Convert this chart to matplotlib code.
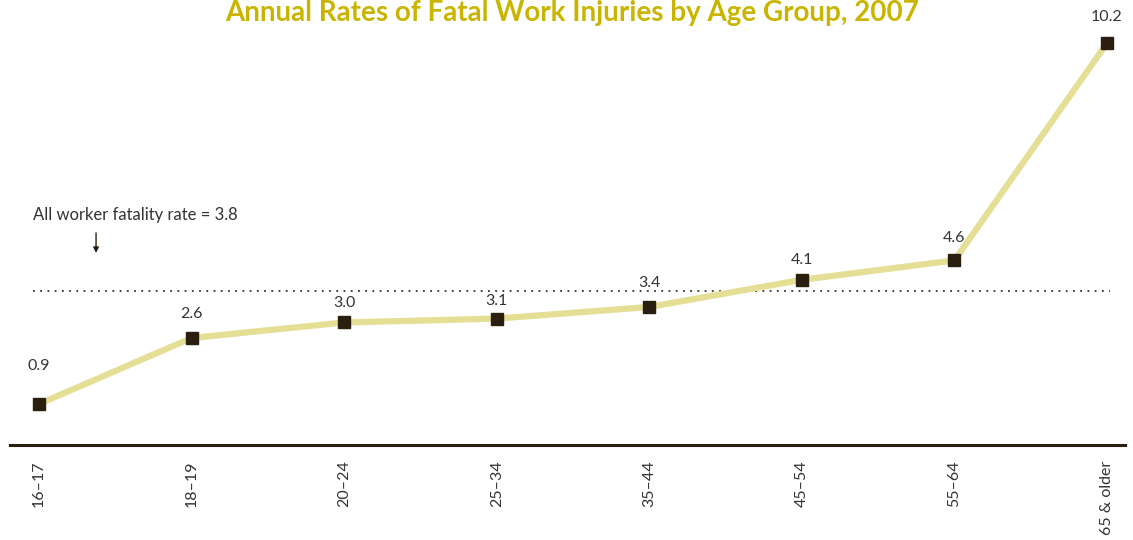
import matplotlib
matplotlib.use("Agg")
import matplotlib.pyplot as plt

groups = ["16\u201317", "18\u201319", "20\u201324", "25\u201334", "35\u201344", "45\u201354", "55\u201364", "65 & older"]
rates = [0.9, 2.6, 3.0, 3.1, 3.4, 4.1, 4.6, 10.2]
all_rate = 3.8

plt.rcParams['font.family'] = ['Lato', 'DejaVu Sans']
dark = '#2a1f0f'
W, H = 1133, 540
fig = plt.figure(figsize=(W / 100, H / 100), dpi=100)
# axes placed in pixel terms: left 10, right 1125, bottom at y=445 from top, top at 0
ax = fig.add_axes([10 / W, (H - 445) / H, 1115 / W, 445 / H])

x = list(range(len(groups)))
ax.plot(x, rates, color='#e5de95', lw=4.5, solid_capstyle='butt', zorder=2)
ax.plot(x, rates, ls='none', marker='s', ms=8.5, color=dark, zorder=3)
# label lift above each marker (points), hand-tuned like the original so they dodge the dotted line
lift = [27, 17, 14, 13, 17, 14, 16, 19]
for xi, r, dy in zip(x, rates, lift):
    ax.annotate(f"{r:.1f}", (xi, r), xytext=(0, dy), textcoords='offset points',
                ha='center', va='center', fontsize=11.5, color='#333333')

ax.plot([-0.04, 7.02], [all_rate, all_rate], ls=(0, (1, 3)), lw=1.3, color='#333333', zorder=1)
ax.text(-0.04, 5.77, "All worker fatality rate = 3.8", fontsize=12, color='#333333', va='center')
ax.annotate("", xy=(0.374, 4.72), xytext=(0.374, 5.38),
            arrowprops=dict(arrowstyle='-|>', color=dark, lw=1, mutation_scale=8))

ax.set_xlim(-0.19, 7.118)
ax.set_ylim(-0.157, 11.31)
ax.set_xticks(x)
ax.set_xticklabels(groups, rotation=90, fontsize=11.5, color='#333333', va='top')
ax.tick_params(axis='x', length=0, pad=11)
ax.set_yticks([])
for s in ['top', 'right', 'left']:
    ax.spines[s].set_visible(False)
ax.spines['bottom'].set_color(dark)
ax.spines['bottom'].set_linewidth(2.2)

fig.text(572 / W, 1 - 21 / H, "Annual Rates of Fatal Work Injuries by Age Group, 2007",
         ha='center', va='baseline', fontsize=20, fontweight='bold', color='#c9b500')

fig.savefig("out.png", dpi=100)
